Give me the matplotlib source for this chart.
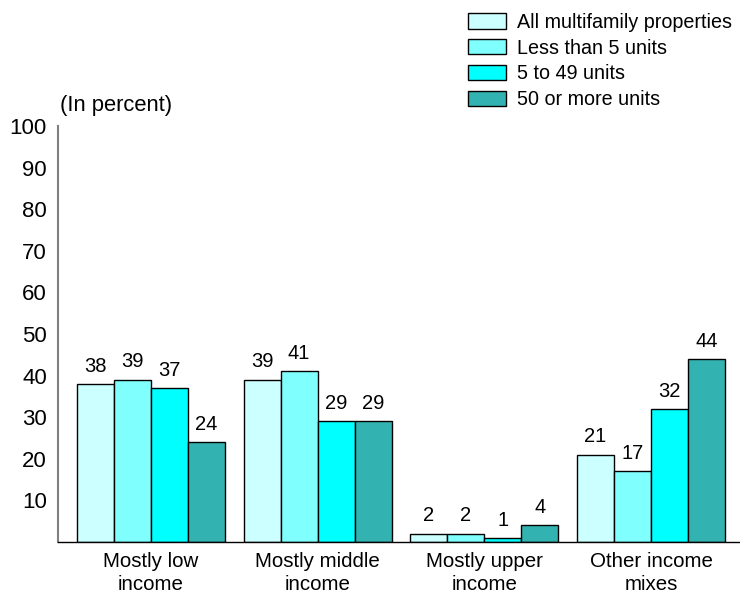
import numpy as np
import matplotlib.pyplot as plt
from matplotlib.patches import Patch

plt.rcParams['font.family'] = ['Liberation Sans', 'DejaVu Sans']

# Share of properties by income mix of residents
categories = ["Mostly low\nincome", "Mostly middle\nincome",
              "Mostly upper\nincome", "Other income\nmixes"]
series_names = ["All multifamily properties", "Less than 5 units",
                "5 to 49 units", "50 or more units"]
all_multifamily = [38, 39, 2, 21]
less_than_5 = [39, 41, 2, 17]
units_5_to_49 = [37, 29, 1, 32]
units_50_plus = [24, 29, 4, 44]
y_ticks = [10, 20, 30, 40, 50, 60, 70, 80, 90, 100]

colors = ["#CCFFFF", "#80FFFF", "#00FFFF", "#33B2B2"]


def main():
    fig = plt.figure(figsize=(7.4, 5.97), dpi=100)
    ax = fig.add_axes([58 / 740, 1 - 542 / 597, 1 - 58 / 740, (542 - 126) / 597])

    x = np.arange(len(categories))
    width = 0.222
    series = [all_multifamily, less_than_5, units_5_to_49, units_50_plus]
    for i, (vals, color) in enumerate(zip(series, colors)):
        pos = x + (i - 1.5) * width
        ax.bar(pos, vals, width, color=color, edgecolor="black", linewidth=1)
        for p, v in zip(pos, vals):
            ax.annotate(str(v), (p, v), xytext=(0, 6), textcoords="offset points",
                        ha="center", va="bottom", fontsize=14.5)

    ax.set_ylim(0, 100)
    ax.set_xlim(-0.557, 3.533)
    ax.set_yticks(y_ticks)
    ax.set_yticklabels([str(t) for t in y_ticks], fontsize=16)
    ax.set_xticks(x)
    ax.set_xticklabels(categories, fontsize=14.8, linespacing=1.22)
    ax.tick_params(axis="both", length=0)
    ax.tick_params(axis="y", pad=8)
    ax.tick_params(axis="x", pad=7.5)

    for side in ["top", "right"]:
        ax.spines[side].set_visible(False)
    ax.spines["left"].set_color("#808080")
    ax.spines["left"].set_linewidth(1.5)
    ax.spines["bottom"].set_color("black")
    ax.spines["bottom"].set_linewidth(1)

    fig.text(60 / 740, 1 - 105 / 597, "(In percent)", fontsize=15.8,
             ha="left", va="center")

    handles = [Patch(facecolor=c, edgecolor="black", linewidth=1) for c in colors]
    fig.legend(handles, series_names, loc="upper left",
               bbox_to_anchor=(460 / 740, 1 - 5 / 597), frameon=False,
               fontsize=14.2, handlelength=1.92, handleheight=0.8,
               handletextpad=0.58, labelspacing=0.34, borderaxespad=0)

    fig.savefig("out.png", dpi=100)


if __name__ == "__main__":
    main()
